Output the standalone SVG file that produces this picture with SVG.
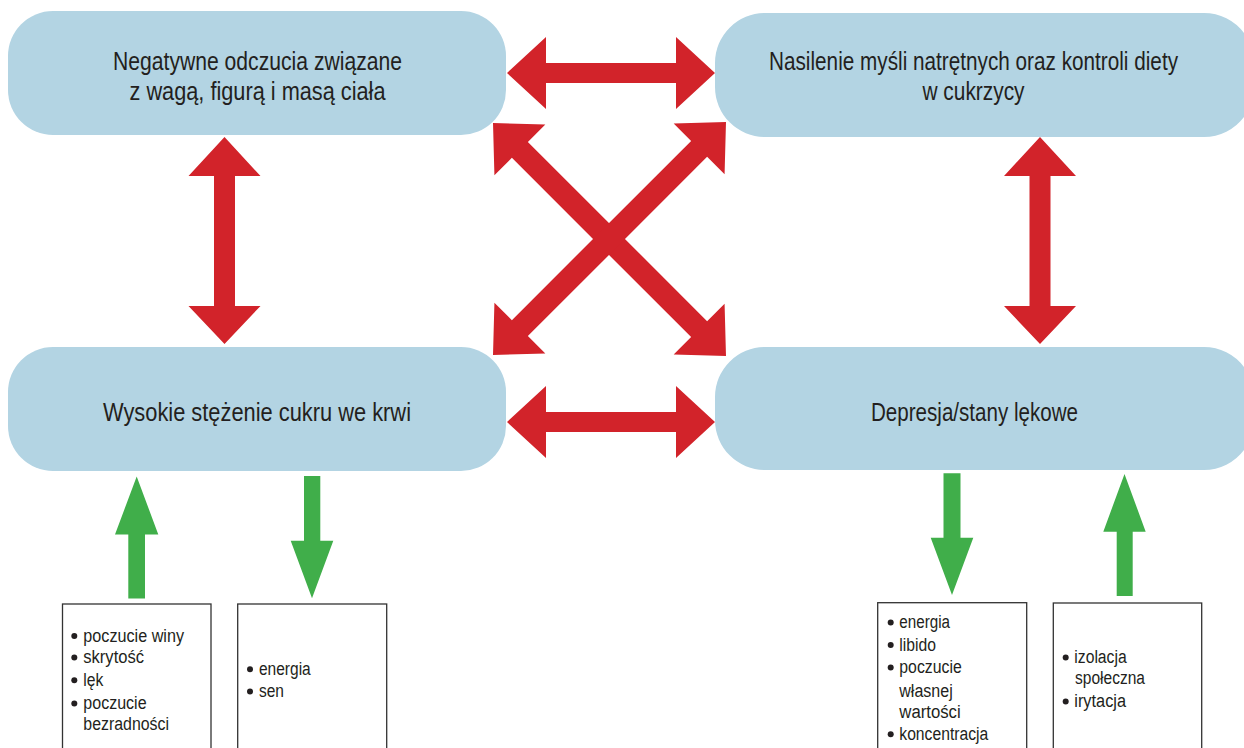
<svg xmlns="http://www.w3.org/2000/svg" width="1244" height="748" viewBox="0 0 1244 748">
<style>
.node{fill:#B3D4E3}
.t{font-family:"Liberation Sans Narrow","Liberation Sans",Arial,sans-serif;fill:#231F20}
.big{font-size:26px;text-anchor:middle}
.sm{font-size:18px}
.red{fill:#D2232A}
.green{fill:#40AE4A}
.list{fill:#fff;stroke:#333;stroke-width:1.3}
.dot{fill:#231F20}
</style>
<rect width="1244" height="748" fill="#fff"/>
<g id="connectors">
<polygon class="red" points="507,73 546,37 546,63 676,63 676,37 715,73 676,109 676,83 546,83 546,109"/>
<polygon class="red" points="507,422 546,386 546,412 676,412 676,386 715,422 676,458 676,432 546,432 546,458"/>
<polygon class="red" points="224.5,137 260.5,176 235,176 235,306 260.5,306 224.5,344 188.5,306 214,306 214,176 188.5,176"/>
<polygon class="red" points="1040,137 1076,176 1050.5,176 1050.5,306 1076,306 1040,344 1004,306 1029.5,306 1029.5,176 1004,176"/>
<polygon class="red" transform="translate(609.5,239.5) rotate(45)" points="-164.75,0 -126.75,-36 -126.75,-11.3 126.75,-11.3 126.75,-36 164.75,0 126.75,36 126.75,11.3 -126.75,11.3 -126.75,36"/>
<polygon class="red" transform="translate(609.5,238.5) rotate(-45)" points="-164.75,0 -126.75,-36 -126.75,-11.3 126.75,-11.3 126.75,-36 164.75,0 126.75,36 126.75,11.3 -126.75,11.3 -126.75,36"/>
<polygon class="green" points="136.7,476.5 158.3,534.5 145,534.5 145,598.5 128.3,598.5 128.3,534.5 115,534.5"/>
<polygon class="green" points="304,476 320.3,476 320.3,540.7 333.3,540.7 312,598.3 290.7,540.7 304,540.7"/>
<polygon class="green" points="943.5,473.3 960.5,473.3 960.5,537.7 973.3,537.7 952,595 930.7,537.7 943.5,537.7"/>
<polygon class="green" points="1124.5,474 1145.7,531.7 1132.7,531.7 1132.7,596 1116.7,596 1116.7,531.7 1103.3,531.7"/>
</g>
<g id="n1">
<rect class="node" x="8" y="11" width="498" height="124" rx="45"/>
<text class="t big" x="257.5" y="70" textLength="289" lengthAdjust="spacingAndGlyphs">Negatywne odczucia związane</text>
<text class="t big" x="257.5" y="100" textLength="256" lengthAdjust="spacingAndGlyphs">z wagą, figurą i masą ciała</text>
</g>
<g id="n2">
<path class="node" d="M765,13 H1204 A50,50 0 0 1 1244,33 V117 A50,50 0 0 1 1204,137 H765 A50,50 0 0 1 715,87 V63 A50,50 0 0 1 765,13 Z"/>
<text class="t big" transform="translate(973.5,70) scale(0.82,1)" x="0" y="0" textLength="498.8" lengthAdjust="spacingAndGlyphs">Nasilenie myśli natrętnych oraz kontroli diety</text>
<text class="t big" x="973.5" y="100" textLength="102" lengthAdjust="spacingAndGlyphs">w cukrzycy</text>
</g>
<g id="n3">
<rect class="node" x="8" y="347" width="498" height="124" rx="45"/>
<text class="t big" x="257" y="421" textLength="308" lengthAdjust="spacingAndGlyphs">Wysokie stężenie cukru we krwi</text>
</g>
<g id="n4">
<path class="node" d="M765,347 H1204 A50,50 0 0 1 1244,367 V450 A50,50 0 0 1 1204,470 H765 A50,50 0 0 1 715,420 V397 A50,50 0 0 1 765,347 Z"/>
<text class="t big" x="974.5" y="421" textLength="207" lengthAdjust="spacingAndGlyphs">Depresja/stany lękowe</text>
</g>
<g id="b1">
<rect class="list" x="62.5" y="604" width="148.5" height="160"/>
<circle class="dot" cx="74.3" cy="636" r="3"/>
<circle class="dot" cx="74.3" cy="657.6" r="3"/>
<circle class="dot" cx="74.3" cy="680.3" r="3"/>
<circle class="dot" cx="74.3" cy="703.6" r="3"/>
<text class="t sm" x="83.3" y="641.7" textLength="100.7" lengthAdjust="spacingAndGlyphs">poczucie winy</text>
<text class="t sm" x="83.3" y="663.3" textLength="60.7" lengthAdjust="spacingAndGlyphs">skrytość</text>
<text class="t sm" x="83.3" y="686" textLength="20" lengthAdjust="spacingAndGlyphs">lęk</text>
<text class="t sm" x="83.3" y="709.3" textLength="63.3" lengthAdjust="spacingAndGlyphs">poczucie</text>
<text class="t sm" x="83.3" y="730.3" textLength="85.7" lengthAdjust="spacingAndGlyphs">bezradności</text>
</g>
<g id="b2">
<rect class="list" x="237.7" y="604" width="149" height="160"/>
<circle class="dot" cx="250" cy="669.3" r="3"/>
<circle class="dot" cx="250" cy="691.6" r="3"/>
<text class="t sm" x="259" y="675" textLength="51.7" lengthAdjust="spacingAndGlyphs">energia</text>
<text class="t sm" x="259" y="697.3" textLength="25" lengthAdjust="spacingAndGlyphs">sen</text>
</g>
<g id="b3">
<rect class="list" x="877.7" y="602.7" width="149" height="160"/>
<circle class="dot" cx="890.7" cy="622.6" r="3"/>
<circle class="dot" cx="890.7" cy="645" r="3"/>
<circle class="dot" cx="890.7" cy="667.6" r="3"/>
<circle class="dot" cx="890.7" cy="734.3" r="3"/>
<text class="t sm" x="899.3" y="628.3" textLength="50.7" lengthAdjust="spacingAndGlyphs">energia</text>
<text class="t sm" x="899.3" y="650.7" textLength="36.7" lengthAdjust="spacingAndGlyphs">libido</text>
<text class="t sm" x="899.3" y="673.3" textLength="62.4" lengthAdjust="spacingAndGlyphs">poczucie</text>
<text class="t sm" x="899.3" y="696.7" textLength="53.4" lengthAdjust="spacingAndGlyphs">własnej</text>
<text class="t sm" x="899.3" y="718.3" textLength="61.4" lengthAdjust="spacingAndGlyphs">wartości</text>
<text class="t sm" x="899.3" y="740" textLength="89" lengthAdjust="spacingAndGlyphs">koncentracja</text>
</g>
<g id="b4">
<rect class="list" x="1053.3" y="603" width="148.4" height="160"/>
<circle class="dot" cx="1065.7" cy="657.6" r="3"/>
<circle class="dot" cx="1065.7" cy="701.6" r="3"/>
<text class="t sm" x="1074.3" y="663.3" textLength="52.4" lengthAdjust="spacingAndGlyphs">izolacja</text>
<text class="t sm" x="1075" y="684" textLength="70" lengthAdjust="spacingAndGlyphs">społeczna</text>
<text class="t sm" x="1074.3" y="707.3" textLength="51.7" lengthAdjust="spacingAndGlyphs">irytacja</text>
</g>
</svg>
